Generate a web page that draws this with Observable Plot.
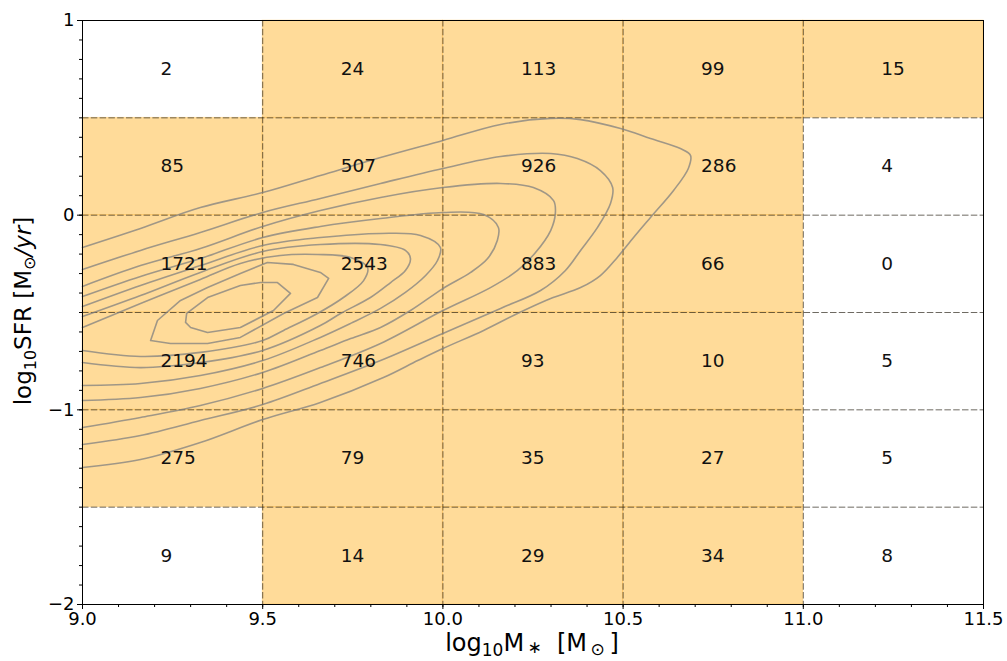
<!DOCTYPE html>
<html><head><meta charset="utf-8">
<script src="https://cdn.jsdelivr.net/npm/d3@7"></script>
<script src="https://cdn.jsdelivr.net/npm/@observablehq/plot@0.6"></script>
<style>body{margin:0;background:#fff} svg{display:block}</style>
</head><body><div id="chart"></div>
<script>
// Bin edges
const massBins = [9.0, 9.5, 10.0, 10.5, 11.0, 11.5];
const sfrBins = [1.0, 0.5, 0.0, -0.5, -1.0, -1.5, -2.0];
// Counts per row (top to bottom), columns = mass bins
const countsRow1 = [2, 24, 113, 99, 15];
const countsRow2 = [85, 507, 926, 286, 4];
const countsRow3 = [1721, 2543, 883, 66, 0];
const countsRow4 = [2194, 746, 93, 10, 5];
const countsRow5 = [275, 79, 35, 27, 5];
const countsRow6 = [9, 14, 29, 34, 8];
const countThreshold = 10;
// Axis ticks
const xTicks = [9.0, 9.5, 10.0, 10.5, 11.0, 11.5];
const xMinor = d3.range(9.0, 11.5001, 0.1).map(d => +d.toFixed(1));
const yTicks = [-2, -1, 0, 1];
const yMinor = d3.range(-2.0, 1.0001, 0.1).map(d => +d.toFixed(1));
const gridX = [9.5, 10.0, 10.5, 11.0];
const gridY = [0.5, 0.0, -0.5, -1.0, -1.5];
// Density contours (log M*, log SFR), outermost to innermost
const level1 = [[9.000,-0.166],[9.161,-0.068],[9.327,0.039],[9.500,0.116],[9.660,0.204],[9.827,0.296],[10.000,0.384],[10.160,0.466],[10.299,0.497],[10.382,0.491],[10.493,0.445],[10.576,0.394],[10.659,0.342],[10.687,0.307],[10.681,0.240],[10.640,0.127],[10.576,-0.012],[10.529,-0.115],[10.484,-0.217],[10.437,-0.310],[10.382,-0.372],[10.299,-0.428],[10.207,-0.505],[10.113,-0.592],[10.000,-0.685],[9.930,-0.747],[9.835,-0.834],[9.660,-0.962],[9.500,-1.050],[9.327,-1.168],[9.161,-1.255],[9.000,-1.296]];
const level2 = [[9.000,-0.279],[9.161,-0.181],[9.327,-0.089],[9.500,0.014],[9.660,0.086],[9.827,0.163],[10.000,0.240],[10.160,0.301],[10.299,0.317],[10.373,0.291],[10.437,0.229],[10.471,0.142],[10.465,0.060],[10.429,-0.063],[10.382,-0.181],[10.340,-0.284],[10.271,-0.387],[10.160,-0.479],[10.000,-0.608],[9.827,-0.747],[9.660,-0.865],[9.500,-0.973],[9.327,-1.055],[9.161,-1.132],[9.000,-1.178]];
const level3 = [[9.000,-0.366],[9.161,-0.259],[9.327,-0.171],[9.500,-0.058],[9.660,0.024],[9.827,0.091],[10.000,0.142],[10.160,0.163],[10.251,0.142],[10.307,0.075],[10.312,0.009],[10.299,-0.079],[10.257,-0.192],[10.207,-0.284],[10.132,-0.372],[10.000,-0.490],[9.827,-0.659],[9.660,-0.783],[9.500,-0.890],[9.327,-0.978],[9.161,-1.039],[9.000,-1.091]];
const level4 = [[9.000,-0.418],[9.161,-0.315],[9.327,-0.223],[9.500,-0.115],[9.660,-0.058],[9.827,-0.017],[10.000,0.014],[10.113,0.003],[10.154,-0.063],[10.151,-0.130],[10.124,-0.223],[10.077,-0.294],[10.000,-0.377],[9.910,-0.490],[9.827,-0.577],[9.744,-0.634],[9.660,-0.695],[9.500,-0.808],[9.327,-0.890],[9.161,-0.937],[9.000,-0.952]];
const level5 = [[9.000,-0.469],[9.161,-0.361],[9.327,-0.259],[9.500,-0.156],[9.660,-0.115],[9.827,-0.094],[9.938,-0.104],[9.993,-0.166],[9.985,-0.233],[9.952,-0.310],[9.896,-0.397],[9.827,-0.479],[9.744,-0.556],[9.660,-0.628],[9.500,-0.747],[9.327,-0.824],[9.161,-0.865],[9.000,-0.875]];
const level6 = [[9.000,-0.521],[9.161,-0.413],[9.327,-0.294],[9.500,-0.187],[9.660,-0.151],[9.827,-0.151],[9.896,-0.181],[9.910,-0.223],[9.896,-0.284],[9.855,-0.346],[9.799,-0.423],[9.716,-0.505],[9.660,-0.567],[9.500,-0.695],[9.327,-0.757],[9.161,-0.783],[9.000,-0.757]];
const level7 = [[9.000,-0.577],[9.161,-0.454],[9.327,-0.330],[9.438,-0.248],[9.549,-0.207],[9.652,-0.202],[9.744,-0.217],[9.791,-0.269],[9.780,-0.336],[9.724,-0.423],[9.652,-0.505],[9.558,-0.592],[9.500,-0.644],[9.327,-0.705],[9.161,-0.726],[9.000,-0.695]];
const level8 = [[9.189,-0.644],[9.208,-0.541],[9.272,-0.438],[9.347,-0.372],[9.438,-0.300],[9.513,-0.243],[9.585,-0.253],[9.660,-0.294],[9.683,-0.325],[9.652,-0.423],[9.558,-0.505],[9.438,-0.628],[9.347,-0.659],[9.244,-0.659],[9.189,-0.644]];
const level9 = [[9.286,-0.551],[9.289,-0.505],[9.347,-0.423],[9.438,-0.361],[9.494,-0.346],[9.541,-0.346],[9.577,-0.402],[9.530,-0.490],[9.438,-0.577],[9.347,-0.603],[9.300,-0.577],[9.286,-0.551]];

const rows = [countsRow1, countsRow2, countsRow3, countsRow4, countsRow5, countsRow6];
const cells = [];
rows.forEach((row, i) => row.forEach((n, j) => cells.push({
  x1: massBins[j], x2: massBins[j + 1], y1: sfrBins[i + 1], y2: sfrBins[i], n
})));
const openLevels = [level1, level2, level3, level4, level5, level6, level7];
const closedLevels = [level8, level9];
const toPts = (levels, off) => levels.flatMap((pts, k) => pts.map(([x, y]) => ({x, y, level: k + off})));
const openPts = toPts(openLevels, 0);
const closedPts = toPts(closedLevels, 10);

const font = "DejaVu Sans";
const plot = Plot.plot({
  width: 1007, height: 661,
  marginLeft: 82, marginRight: 24, marginTop: 20, marginBottom: 57,
  x: {domain: [9, 11.5]},
  y: {domain: [-2, 1]},
  style: {fontFamily: font, fontSize: "18px", color: "#000", background: "#fff"},
  marks: [
    Plot.rect(cells.filter(d => d.n >= countThreshold), {
      x1: "x1", x2: "x2", y1: "y1", y2: "y2",
      fill: "orange", fillOpacity: 0.4, stroke: "orange", strokeOpacity: 0.2, strokeWidth: 1
    }),
    Plot.ruleX(gridX, {stroke: "#2a2418", strokeOpacity: 0.68, strokeDasharray: "6.5,2.3", strokeWidth: 1}),
    Plot.ruleY(gridY, {stroke: "#2a2418", strokeOpacity: 0.68, strokeDasharray: "6.5,2.3", strokeWidth: 1}),
    Plot.line(openPts, {x: "x", y: "y", z: "level", stroke: "#808080", strokeOpacity: 0.75, strokeWidth: 1.6, curve: "catmull-rom"}),
    Plot.line(closedPts, {x: "x", y: "y", z: "level", stroke: "#808080", strokeOpacity: 0.75, strokeWidth: 1.6}),
    Plot.text(cells, {
      x: "x1", y: d => (d.y1 + d.y2) / 2, text: d => String(d.n),
      textAnchor: "start", dx: 78, lineAnchor: "middle", fontSize: 18.5, fill: "#111"
    }),
    Plot.frame({stroke: "#000", strokeWidth: 1}),
    Plot.axisX({ticks: xTicks, tickFormat: d3.format(".1f"), tickSize: 5, tickPadding: 3, label: null}),
    Plot.axisX({ticks: xMinor, tickSize: 3, tickFormat: () => "", label: null}),
    Plot.axisY({ticks: yTicks, tickFormat: d3.format("d"), tickSize: 5, tickPadding: 3, label: null}),
    Plot.axisY({ticks: yMinor, tickSize: 3, tickFormat: () => "", label: null})
  ]
});

const svg = d3.select(plot);
// x-axis label: log10 M* [M⊙]
const xl = svg.append("text")
  .attr("x", 532).attr("y", 651).attr("text-anchor", "middle")
  .attr("font-family", font).attr("font-size", 24).attr("fill", "#000");
xl.append("tspan").text("log");
xl.append("tspan").attr("font-size", 17).attr("dy", 5).text("10");
xl.append("tspan").attr("dy", -5).text("M");
xl.append("tspan").attr("font-size", 17).attr("dy", 2).text("\u2009∗");
xl.append("tspan").attr("dy", -2).text("  [M");
xl.append("tspan").attr("font-size", 17).attr("dy", 4).text("\u2009⊙");
xl.append("tspan").attr("dy", -4).text("\u2009]");

// y-axis label: log10 SFR [M⊙/yr]
const yl = svg.append("text")
  .attr("transform", "translate(31,311) rotate(-90)").attr("text-anchor", "middle")
  .attr("font-family", font).attr("font-size", 23).attr("fill", "#000");
yl.append("tspan").text("log");
yl.append("tspan").attr("font-size", 16).attr("dy", 5).text("10");
yl.append("tspan").attr("dy", -5).text("SFR [M");
yl.append("tspan").attr("font-size", 16).attr("dy", 4).text("⊙");
yl.append("tspan").attr("dy", -4).attr("font-style", "italic").text("/yr");
yl.append("tspan").text("]");

document.getElementById("chart").appendChild(plot);
</script>
</body></html>
